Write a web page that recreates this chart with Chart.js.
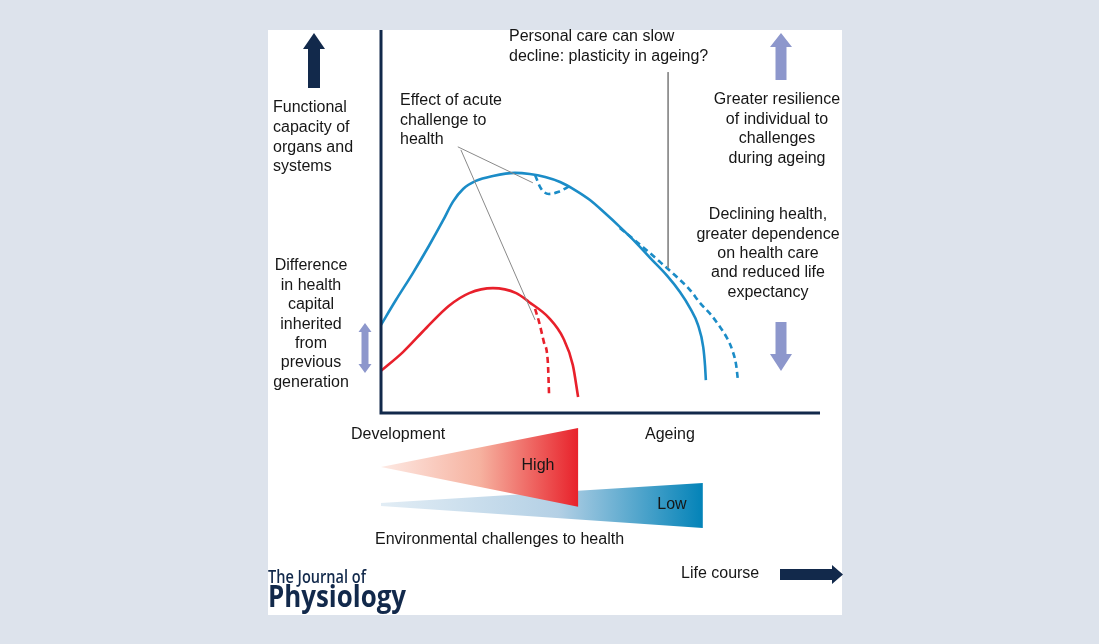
<!DOCTYPE html>
<html>
<head>
<meta charset="utf-8">
<script src="https://cdn.jsdelivr.net/npm/chart.js@4.4.1/dist/chart.umd.min.js"></script>
<style>
  html, body { margin: 0; padding: 0; background: #dde3ec; overflow: hidden; }
  canvas { display: block; }
</style>
</head>
<body>
<canvas id="lifecourse" width="1099" height="644"></canvas>
<script>
// life course on x (0 = birth, 100 = end of axis), functional capacity on y (0..100)
const healthyCurve = [
  [0, 23.0], [3.4, 29.5], [7.3, 36.6], [10.9, 43.6], [14.1, 50.2], [16.4, 55.2],
  [18.7, 58.5], [21.6, 60.6], [25.5, 61.9], [30.5, 62.7], [33.9, 62.4], [37.4, 61.6],
  [40.8, 60.3], [44.2, 58.2], [47.6, 55.6], [51.0, 52.2], [54.4, 48.6], [57.9, 44.7],
  [61.3, 40.5], [65.2, 35.8], [68.1, 31.6], [70.4, 27.4], [72.2, 23.0], [73.4, 17.2],
  [73.8, 12.5], [74.0, 8.6]
];
const slowedDecline = [
  [54.4, 48.3], [59.7, 43.3], [63.6, 39.4], [67.4, 35.5], [70.4, 32.1], [72.7, 28.7],
  [75.2, 25.6], [77.2, 22.5], [78.8, 19.6], [80.0, 16.5], [80.9, 12.5], [81.3, 8.6]
];
const acuteDip = [[35.1, 62.1], [36.4, 58.7], [38.2, 57.2], [40.3, 57.7], [43.1, 59.3]];

const poorCurve = [
  [0, 11.0], [5.0, 15.9], [10.3, 22.2], [15.5, 28.0], [20.1, 31.3], [25.5, 32.6],
  [30.8, 31.3], [33.7, 29.0], [38.3, 24.8], [41.5, 19.6], [43.7, 12.5], [44.9, 4.2]
];
const poorAcuteDrop = [[35.1, 27.2], [36.0, 23.8], [37.1, 18.5], [38.0, 13.3], [38.3, 4.2]];

// pointer lines from the labels
const acutePointerA = [[17.5, 69.5], [34.6, 60.1]];
const acutePointerB = [[18.2, 68.7], [35.1, 24.3]];
const plasticityPointer = [[65.4, 89.0], [65.4, 37.9]];

// environmental challenge wedges (below the axis)
const highChallenge = [[0, -14.1], [44.9, -3.9], [44.9, -24.5], [0, -14.1]];
const lowChallenge = [[0, -23.5], [73.3, -18.3], [73.3, -30.0], [0, -24.3], [0, -23.5]];

const toPoints = arr => arr.map(([x, y]) => ({ x, y }));

const BLUE = "#1b8cc7";
const RED = "#e8202b";
const NAVY = "#12294b";
const LILAC = "#8d97cc";
const FONT = '"Liberation Sans", Arial, sans-serif';

function hGradient(chart, x0, x1, stops) {
  const { ctx, chartArea, scales } = chart;
  if (!chartArea) return "transparent";
  const g = ctx.createLinearGradient(scales.x.getPixelForValue(x0), 0, scales.x.getPixelForValue(x1), 0);
  stops.forEach(([o, c]) => g.addColorStop(o, c));
  return g;
}

function curve(data, color, dash) {
  return {
    data: toPoints(data),
    showLine: true,
    borderColor: color,
    borderWidth: 2.6,
    borderDash: dash || [],
    pointRadius: 0,
    cubicInterpolationMode: "monotone",
    fill: false
  };
}

function pointer(data) {
  return {
    data: toPoints(data),
    showLine: true,
    borderColor: "#8a8a8a",
    borderWidth: 1,
    pointRadius: 0,
    tension: 0,
    fill: false
  };
}

const labels = [
  { lines: ["Functional", "capacity of", "organs and", "systems"], x: 273, y: 108, lh: 19.6, align: "left" },
  { lines: ["Effect of acute", "challenge to", "health"], x: 400, y: 101, lh: 19.5, align: "left" },
  { lines: ["Personal care can slow", "decline: plasticity in ageing?"], x: 509, y: 37, lh: 20, align: "left" },
  { lines: ["Greater resilience", "of individual to", "challenges", "during ageing"], x: 777, y: 100, lh: 19.4, align: "center" },
  { lines: ["Declining health,", "greater dependence", "on health care", "and reduced life", "expectancy"], x: 768, y: 215, lh: 19.3, align: "center" },
  { lines: ["Difference", "in health", "capital", "inherited", "from", "previous", "generation"], x: 311, y: 266, lh: 19.4, align: "center" },
  { lines: ["Development"], x: 351, y: 435, lh: 19, align: "left" },
  { lines: ["Ageing"], x: 645, y: 435, lh: 19, align: "left" },
  { lines: ["High"], x: 538, y: 466, lh: 19, align: "center" },
  { lines: ["Low"], x: 672, y: 505, lh: 19, align: "center" },
  { lines: ["Environmental challenges to health"], x: 375, y: 540, lh: 19, align: "left" },
  { lines: ["Life course"], x: 681, y: 574, lh: 19, align: "left" }
];

function vArrow(ctx, x, tail, tip, headLen, headHalf, shaftHalf, color) {
  const dir = tip < tail ? -1 : 1;
  const base = tip - dir * headLen;
  ctx.fillStyle = color;
  ctx.beginPath();
  ctx.moveTo(x - shaftHalf, tail);
  ctx.lineTo(x - shaftHalf, base);
  ctx.lineTo(x - headHalf, base);
  ctx.lineTo(x, tip);
  ctx.lineTo(x + headHalf, base);
  ctx.lineTo(x + shaftHalf, base);
  ctx.lineTo(x + shaftHalf, tail);
  ctx.closePath();
  ctx.fill();
}

function fitText(ctx, text, x, y, width) {
  const w = ctx.measureText(text).width;
  ctx.save();
  ctx.translate(x, y);
  ctx.scale(width / w, 1);
  ctx.fillText(text, 0, 0);
  ctx.restore();
}

const diagramPlugin = {
  id: "diagram",
  beforeDraw(chart) {
    const { ctx, chartArea: a } = chart;
    ctx.save();
    ctx.fillStyle = "#dde3ec";
    ctx.fillRect(0, 0, chart.width, chart.height);
    ctx.fillStyle = "#ffffff";
    ctx.fillRect(a.left, a.top, a.right - a.left, a.bottom - a.top);
    ctx.restore();
  },
  afterDatasetsDraw(chart) {
    const { ctx, scales: { x, y }, chartArea: a } = chart;
    const x0 = x.getPixelForValue(0), y0 = y.getPixelForValue(0);
    ctx.save();
    ctx.strokeStyle = NAVY;
    ctx.lineWidth = 3;
    ctx.beginPath();
    ctx.moveTo(x0, y.getPixelForValue(100));
    ctx.lineTo(x0, y0);
    ctx.lineTo(x.getPixelForValue(100), y0);
    ctx.stroke();

    // arrows
    vArrow(ctx, 314, 88, 33, 16, 11, 6, NAVY);
    vArrow(ctx, 781, 80, 33, 14, 11, 5.5, LILAC);
    vArrow(ctx, 781, 322, 371, 17, 11, 5.5, LILAC);
    ctx.fillStyle = LILAC;
    ctx.beginPath();
    ctx.moveTo(365, 323); ctx.lineTo(371.5, 332); ctx.lineTo(368.5, 332);
    ctx.lineTo(368.5, 364); ctx.lineTo(371.5, 364); ctx.lineTo(365, 373);
    ctx.lineTo(358.5, 364); ctx.lineTo(361.5, 364); ctx.lineTo(361.5, 332);
    ctx.lineTo(358.5, 332); ctx.closePath();
    ctx.fill();
    // life course arrow
    ctx.fillStyle = NAVY;
    ctx.beginPath();
    ctx.moveTo(780, 569); ctx.lineTo(832, 569); ctx.lineTo(832, 565);
    ctx.lineTo(843, 574.5); ctx.lineTo(832, 584); ctx.lineTo(832, 580);
    ctx.lineTo(780, 580); ctx.closePath();
    ctx.fill();

    // labels
    ctx.fillStyle = "#161616";
    ctx.font = "16px " + FONT;
    ctx.textBaseline = "middle";
    labels.forEach(l => {
      ctx.textAlign = l.align;
      l.lines.forEach((t, i) => ctx.fillText(t, l.x, l.y + i * l.lh));
    });

    // journal mark
    ctx.fillStyle = NAVY;
    ctx.textAlign = "left";
    ctx.textBaseline = "alphabetic";
    ctx.font = '600 18px "Open Sans", sans-serif';
    fitText(ctx, "The Journal of", a.left, 583, 98);
    ctx.font = 'bold 30px "Open Sans", sans-serif';
    fitText(ctx, "Physiology", a.left, 607, 138);
    ctx.restore();
  }
};

new Chart(document.getElementById("lifecourse"), {
  type: "scatter",
  data: {
    datasets: [
      pointer(acutePointerA),
      pointer(acutePointerB),
      pointer(plasticityPointer),
      curve(healthyCurve, BLUE),
      curve(slowedDecline, BLUE, [6, 4]),
      curve(acuteDip, BLUE, [6, 4]),
      curve(poorCurve, RED),
      curve(poorAcuteDrop, RED, [6, 4]),
      {
        data: toPoints(highChallenge),
        showLine: true,
        tension: 0,
        pointRadius: 0,
        borderWidth: 0,
        borderColor: "transparent",
        fill: "shape",
        backgroundColor: ctx => hGradient(ctx.chart, 0, 44.9, [[0, "#fde9e3"], [0.5, "#f6b2a0"], [1, "#e8222b"]])
      },
      {
        data: toPoints(lowChallenge),
        showLine: true,
        tension: 0,
        pointRadius: 0,
        borderWidth: 0,
        borderColor: "transparent",
        fill: "shape",
        backgroundColor: ctx => hGradient(ctx.chart, 0, 73.3, [[0, "#e2edf5"], [0.55, "#b4d0e5"], [1, "#0383b8"]])
      }
    ]
  },
  options: {
    responsive: false,
    animation: false,
    layout: { padding: { left: 268, top: 30, right: 257, bottom: 29 } },
    plugins: { legend: { display: false }, tooltip: { enabled: false } },
    scales: {
      x: { type: "linear", min: -25.74, max: 105.01, display: false },
      y: { type: "linear", min: -52.74, max: 100, display: false }
    }
  },
  plugins: [diagramPlugin]
});
</script>
</body>
</html>
